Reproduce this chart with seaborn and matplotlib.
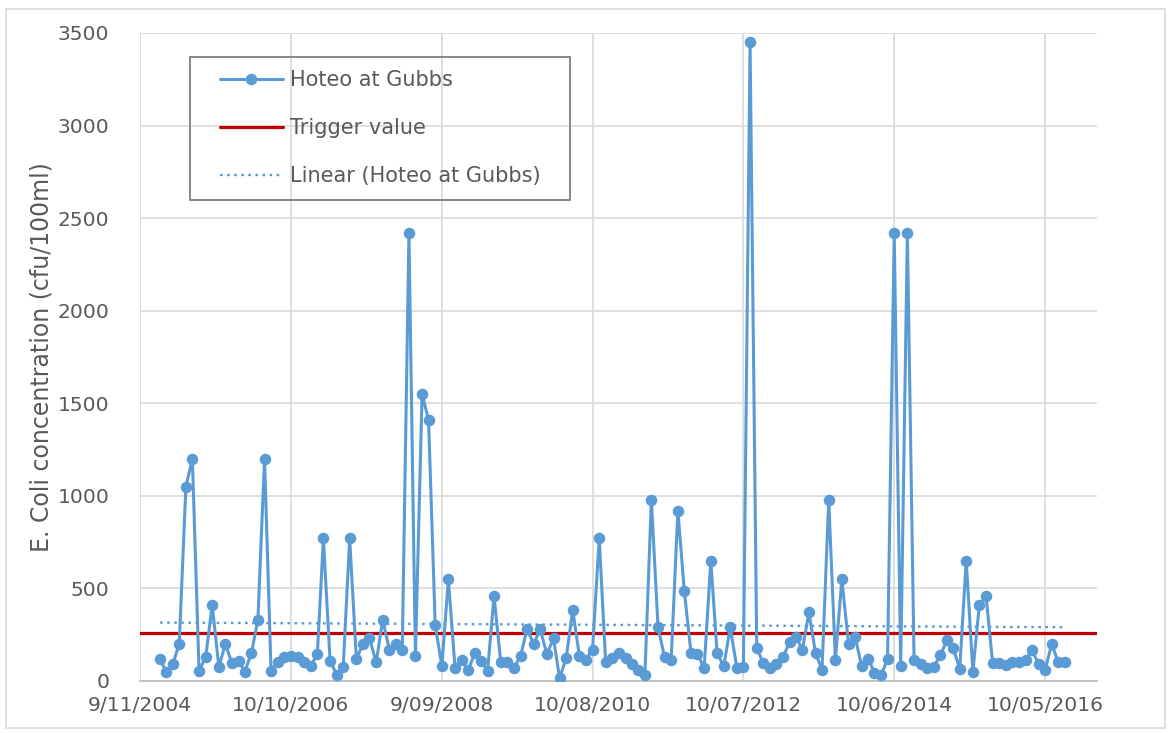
import numpy as np
import pandas as pd
import matplotlib
matplotlib.use("Agg")
import matplotlib.pyplot as plt
import matplotlib.dates as mdates
from matplotlib.lines import Line2D
from matplotlib.patches import Rectangle
import seaborn as sns

# ---------------- data ----------------
series_name = "Hoteo at Gubbs"
first_sample = "2005-02-10"   # monthly sampling
ecoli = [120, 50, 90, 200, 1050, 1200, 55, 130, 410, 75,
         200, 95, 110, 50, 150, 330, 1200, 55, 105, 130,
         135, 130, 100, 80, 145, 770, 110, 35, 75, 770,
         120, 200, 230, 100, 330, 170, 200, 165, 2420, 135,
         1550, 1410, 300, 80, 550, 70, 115, 60, 150, 110,
         55, 460, 100, 100, 70, 135, 280, 200, 280, 145,
         230, 15, 125, 385, 135, 115, 170, 770, 100, 125,
         150, 125, 90, 60, 30, 980, 290, 130, 115, 920,
         485, 150, 145, 70, 650, 150, 80, 290, 70, 75,
         3450, 180, 95, 70, 90, 130, 210, 240, 170, 370,
         150, 60, 980, 115, 550, 200, 240, 80, 120, 45,
         30, 120, 2420, 80, 2420, 115, 90, 70, 75, 140,
         220, 180, 65, 650, 50, 410, 460, 95, 95, 85,
         100, 105, 115, 170, 90, 60, 200, 100, 105]
trigger_value = 260
trigger_label = "Trigger value"
trend_label = "Linear (Hoteo at Gubbs)"
y_label = "E. Coli concentration (cfu/100ml)"
x_start = "2004-11-09"
x_end = "2017-01-06"
x_tick_step_days = 700
y_ticks = [0, 500, 1000, 1500, 2000, 2500, 3000, 3500]

dates = pd.date_range(first_sample, periods=len(ecoli), freq=pd.DateOffset(months=1))
df = pd.DataFrame({"date": dates, "value": ecoli})

# ---------------- style ----------------
sns.set_theme(style="white")
plt.rcParams["font.family"] = ["DejaVu Sans"]
text_col = "#595959"
blue = "#5B9BD5"
red = "#C00000"
grid_col = "#D9D9D9"
fs = 14.6

W, H = 1171, 733
fig = plt.figure(figsize=(W / 100, H / 100), dpi=100)
ax = fig.add_axes([140 / W, 1 - 681 / H, (1097 - 140) / W, (681 - 33) / H])

# outer chart border
fig.patches.append(Rectangle((6 / W, 5 / H), (1165 - 6) / W, (726 - 7) / H,
                             transform=fig.transFigure, fill=False,
                             edgecolor=grid_col, linewidth=1.2))

# trigger line
ax.axhline(trigger_value, color=red, linewidth=2.3, zorder=2)

# trend line (least squares on the data)
xnum = mdates.date2num(df["date"])
slope, intercept = np.polyfit(xnum, df["value"], 1)
tx = np.array([xnum[0], xnum[-1]])
ax.plot(mdates.num2date(tx), slope * tx + intercept, color=blue,
        linewidth=1.7, linestyle=(0, (1.1, 1.9)), zorder=3)

# main series
sns.lineplot(data=df, x="date", y="value", ax=ax, color=blue, linewidth=2.2,
             marker="o", markersize=8.3, markeredgewidth=0, zorder=4,
             legend=False)

# axes
x0 = pd.Timestamp(x_start)
ax.set_xlim(x0, pd.Timestamp(x_end))
ax.set_ylim(0, 3500)
ticks = [x0 + pd.Timedelta(days=x_tick_step_days * i) for i in range(7)]
ax.set_xticks(ticks)
ax.set_xticklabels([f"{t.day}/{t.month:02d}/{t.year}" for t in ticks])
ax.set_yticks(y_ticks)
ax.set_yticklabels([str(v) for v in y_ticks])
ax.grid(True, color=grid_col, linewidth=1.2)
ax.set_axisbelow(True)
for s in ["top", "right", "left"]:
    ax.spines[s].set_visible(False)
ax.spines["bottom"].set_color("#BFBFBF")
ax.spines["bottom"].set_linewidth(1.3)
ax.tick_params(axis="both", length=0, labelsize=fs, labelcolor=text_col)
ax.tick_params(axis="x", pad=11)
ax.tick_params(axis="y", pad=22)
ax.set_xlabel("")
ax.set_ylabel(y_label, fontsize=17, color=text_col, labelpad=3)

# legend (frame drawn separately)
handles = [
    Line2D([], [], color=blue, linewidth=2.2, marker="o", markersize=8.3, markeredgewidth=0),
    Line2D([], [], color=red, linewidth=2.3),
    Line2D([], [], color=blue, linewidth=1.7, linestyle=(0, (1.1, 1.9))),
]
leg = fig.legend(handles, [series_name, trigger_label, trend_label],
                 loc="upper left", bbox_to_anchor=(220 / W, 1 - 70 / H),
                 frameon=False, fontsize=15, handlelength=3.0,
                 handletextpad=0.38, labelspacing=1.35, borderpad=0,
                 borderaxespad=0)
for t in leg.get_texts():
    t.set_color(text_col)
fig.patches.append(Rectangle((190 / W, 1 - 200 / H), (570 - 190) / W, (200 - 57) / H,
                             transform=fig.transFigure, fill=False,
                             edgecolor="#7F7F7F", linewidth=1.3, zorder=5))

fig.savefig("out.png", dpi=100, facecolor="white")
